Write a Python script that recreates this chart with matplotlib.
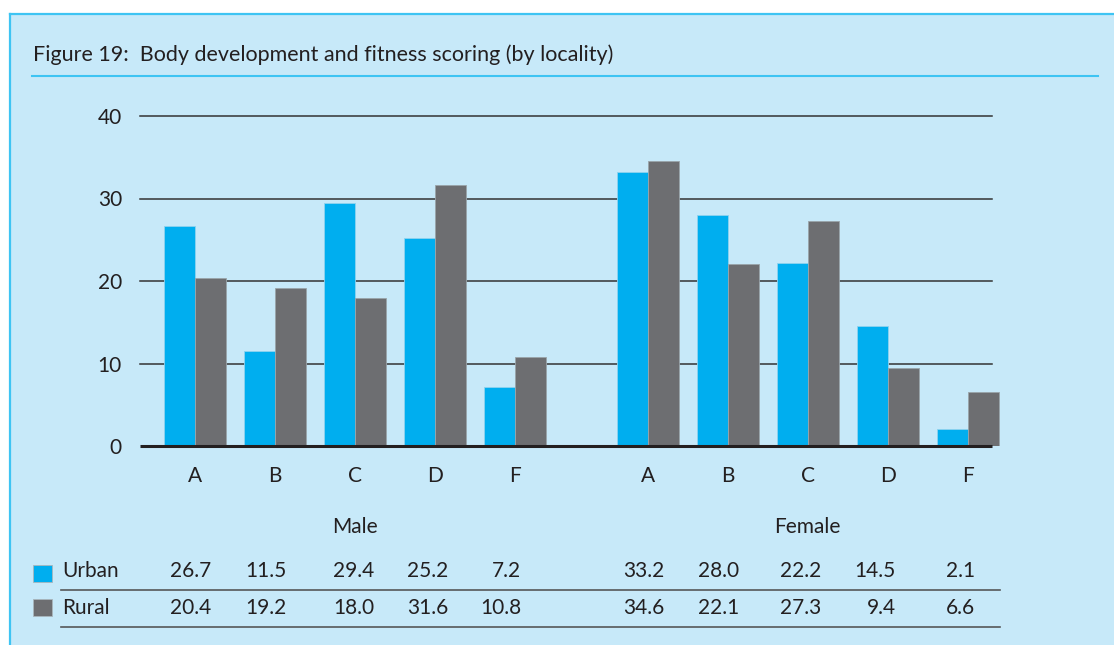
import matplotlib
matplotlib.use("Agg")
import matplotlib.pyplot as plt
import matplotlib.transforms as mtransforms
from matplotlib.patches import Rectangle
from matplotlib.lines import Line2D

# data
grades = ["A", "B", "C", "D", "F"]
groups = ["Male", "Female"]
series = ["Urban", "Rural"]
male_urban = [26.7, 11.5, 29.4, 25.2, 7.2]
male_rural = [20.4, 19.2, 18.0, 31.6, 10.8]
female_urban = [33.2, 28.0, 22.2, 14.5, 2.1]
female_rural = [34.6, 22.1, 27.3, 9.4, 6.6]
y_ticks = [0, 10, 20, 30, 40]

title = "Figure 19:  Body development and fitness scoring (by locality)"

plt.rcParams["font.family"] = ["Lato", "DejaVu Sans"]

W, H = 1114, 645
BG = "#c7e9f9"
CYAN = "#3ec4f3"
URBAN = "#00aeef"
RURAL = "#6d6e71"
INK = "#231f20"
FS = 15

fig = plt.figure(figsize=(W / 100, H / 100), dpi=100, facecolor="white")


def fx(px):
    return px / W


def fy(py):
    return 1 - py / H


# panel background + border
fig.patches.append(Rectangle((fx(10), 0), 1, fy(14), transform=fig.transFigure,
                             facecolor=BG, edgecolor="none", zorder=-5))
fig.lines.append(Line2D([fx(10), 1], [fy(14), fy(14)], transform=fig.transFigure,
                        color=CYAN, lw=1.6, zorder=-4))
fig.lines.append(Line2D([fx(10), fx(10)], [0, fy(14)], transform=fig.transFigure,
                        color=CYAN, lw=1.6, zorder=-4))

fig.text(fx(33), fy(61), title, fontsize=15.5, color=INK, va="baseline", ha="left")
fig.lines.append(Line2D([fx(32), fx(1098)], [fy(76), fy(76)], transform=fig.transFigure,
                        color=CYAN, lw=1.5, zorder=-4))

ax = fig.add_axes([fx(140), fy(446), (1000 - 140) / W, (446 - 116) / H])
ax.set_facecolor("none")
xmin, xmax = -0.6875, 10.0625
ax.set_xlim(xmin, xmax)
ax.set_ylim(0, 40)
for s in ax.spines.values():
    s.set_visible(False)

male_x = list(range(len(grades)))
female_x = [5.66 + i for i in range(len(grades))]
w = 0.39

ax.bar([x - w / 2 for x in male_x], male_urban, w, color=URBAN, edgecolor="#8fd3ef", lw=0.6, zorder=2)
ax.bar([x + w / 2 for x in male_x], male_rural, w, color=RURAL, edgecolor="#9aa4aa", lw=0.6, zorder=2)
ax.bar([x - w / 2 for x in female_x], female_urban, w, color=URBAN, edgecolor="#8fd3ef", lw=0.6, zorder=2)
ax.bar([x + w / 2 for x in female_x], female_rural, w, color=RURAL, edgecolor="#9aa4aa", lw=0.6, zorder=2)

grid_end = xmin + (992 - 140) / 80
for y in y_ticks[1:]:
    ax.plot([xmin, grid_end], [y, y], color="#333333", lw=1.1, zorder=1, clip_on=False)
ax.plot([xmin, grid_end], [0, 0], color=INK, lw=2.2, zorder=3, clip_on=False, solid_capstyle="butt")

ax.set_xticks([])
ax.set_yticks(y_ticks)
ax.set_yticklabels([str(t) for t in y_ticks], fontsize=FS, color=INK)
ax.tick_params(axis="y", length=0, pad=13)

trans = mtransforms.blended_transform_factory(ax.transData, fig.transFigure)

# category letters and group names
for xs in (male_x, female_x):
    for x, g in zip(xs, grades):
        ax.text(x, fy(476), g, transform=trans, ha="center", va="center", fontsize=FS, color=INK)
ax.text(sum(male_x) / len(male_x), fy(527), groups[0], transform=trans,
        ha="center", va="center", fontsize=FS, color=INK)
ax.text(sum(female_x) / len(female_x), fy(527), groups[1], transform=trans,
        ha="center", va="center", fontsize=FS, color=INK)

# data table below (values right-aligned per column, offsets in px)
col_shift = [16, 12, 19, 13, 6, 17, 11, 13, 8, 7]
rows = [(series[0], URBAN, male_urban + female_urban, 571, 565),
        (series[1], RURAL, male_rural + female_rural, 608, 599)]
for label, col, vals, yc, ysq in rows:
    fig.patches.append(Rectangle((fx(33), fy(ysq + 17)), 19 / W, 17 / H, transform=fig.transFigure,
                                 facecolor=col, edgecolor="#a9b6bd", lw=0.6))
    fig.text(fx(62), fy(yc), label, fontsize=FS, color=INK, ha="left", va="center")
    for x, v, sh in zip(male_x + female_x, vals, col_shift):
        ax.text(x + sh / 80, fy(yc), f"{v:.1f}", transform=trans, ha="right", va="center",
                fontsize=FS, color=INK)

for yl in (590, 627):
    fig.lines.append(Line2D([fx(61), fx(1000)], [fy(yl), fy(yl)], transform=fig.transFigure,
                            color="#555759", lw=1.2))

fig.savefig("out.png", dpi=100, facecolor=fig.get_facecolor())
